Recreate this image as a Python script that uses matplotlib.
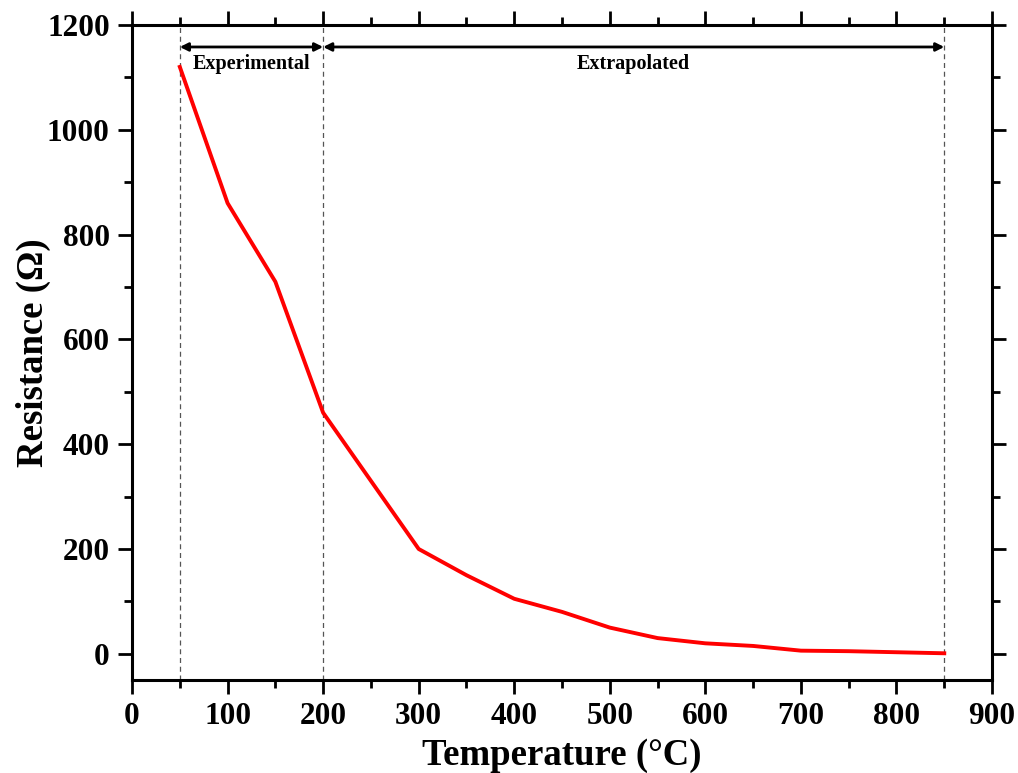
import matplotlib
matplotlib.use("Agg")
import matplotlib.pyplot as plt
from matplotlib.ticker import MultipleLocator

temperature = [50, 100, 150, 200, 250, 300, 350, 400, 450, 500, 550, 600, 650, 700, 750, 800, 850]
resistance = [1120, 860, 710, 460, 330, 200, 150, 105, 80, 50, 30, 20, 15, 6, 5, 3, 1]

region_bounds = [50, 200, 850]
region_labels = ["Experimental", "Extrapolated"]

plt.rcParams['font.family'] = ['Liberation Serif', 'DejaVu Serif']
plt.rcParams['font.weight'] = 'bold'

fig = plt.figure(figsize=(10.18, 7.73), dpi=100)
ax = fig.add_axes([0.1297, 0.1203, 0.9745 - 0.1297, 0.9677 - 0.1203])

ax.plot(temperature, resistance, color='#ff0000', lw=2.8, zorder=3)

for b in region_bounds:
    ax.axvline(b, color='#555555', lw=0.9, ls=(0, (4, 3)), zorder=2)

arrow_y = 1158
text_y = 1126
for (x0, x1), lab in zip(zip(region_bounds[:-1], region_bounds[1:]), region_labels):
    ax.annotate('', xy=(x1, arrow_y), xytext=(x0, arrow_y),
                arrowprops=dict(arrowstyle='<|-|>', color='black', lw=2,
                                mutation_scale=12, shrinkA=0, shrinkB=0))
    ax.text((x0 + x1) / 2, text_y, lab, ha='center', va='center',
            fontsize=14.5, fontweight='bold')

ax.set_xlim(0, 900)
ax.set_ylim(-50, 1200)
ax.xaxis.set_major_locator(MultipleLocator(100))
ax.xaxis.set_minor_locator(MultipleLocator(50))
ax.yaxis.set_major_locator(MultipleLocator(200))
ax.yaxis.set_minor_locator(MultipleLocator(100))

ax.tick_params(which='both', direction='out', top=True, right=True,
               labeltop=False, labelright=False, width=2, labelsize=22.5)
ax.tick_params(which='major', length=10, pad=6)
ax.tick_params(which='minor', length=6)
for lab in ax.get_xticklabels() + ax.get_yticklabels():
    lab.set_fontweight('bold')
for s in ax.spines.values():
    s.set_linewidth(2.2)

ax.set_xlabel('Temperature (°C)', fontsize=26.5, fontweight='bold', labelpad=5)
ax.set_ylabel('Resistance (Ω)', fontsize=26.5, fontweight='bold', labelpad=-3)

fig.savefig('out.png', dpi=100)
